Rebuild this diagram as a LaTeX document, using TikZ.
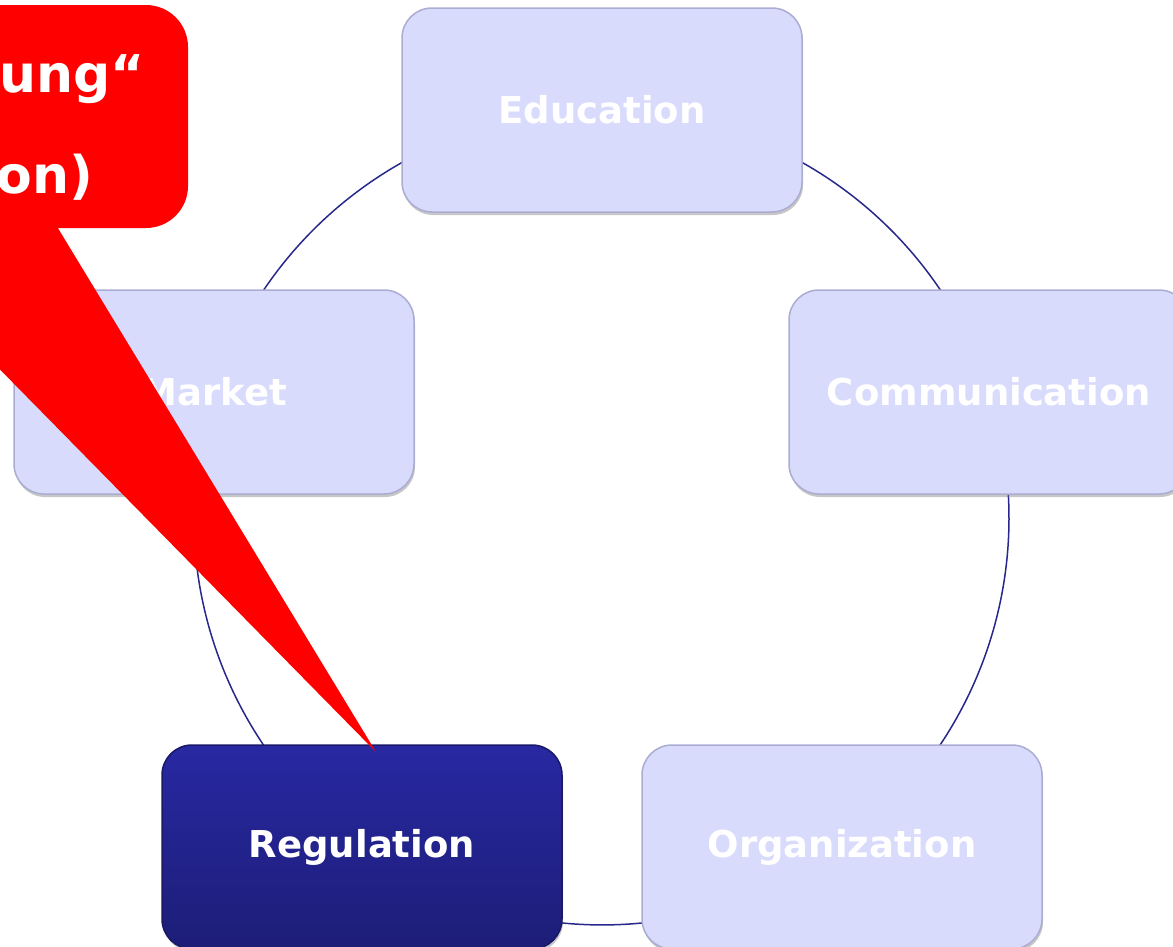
\documentclass[tikz,border=0pt]{standalone}
\usepackage{fontspec}
\setmainfont{DejaVu Sans}
\usetikzlibrary{backgrounds,shadows}
\definecolor{boxfill}{RGB}{217,219,252}
\definecolor{boxedge}{RGB}{170,172,210}
\definecolor{regtop}{RGB}{40,40,162}
\definecolor{regbot}{RGB}{29,29,120}
\definecolor{ringblue}{RGB}{40,40,140}
\definecolor{calloutred}{RGB}{255,0,0}
\begin{document}
\begin{tikzpicture}[x=1pt,y=1pt,
  cyclebox/.style={rounded corners=30pt, minimum width=400pt, minimum height=204pt,
    inner sep=0pt, font=\fontsize{37}{44}\selectfont\bfseries, text=white,
    drop shadow={shadow xshift=1pt,shadow yshift=-3pt,opacity=0.4,fill=black!55}},
  lightbox/.style={cyclebox, fill=boxfill, draw=boxedge, line width=1.5pt},
  darkbox/.style={cyclebox, top color=regtop, bottom color=regbot, draw=regbot!85!black, line width=1.5pt},
  ring/.style={draw=ringblue, line width=1.5pt},
  callout/.style={fill=calloutred},
  callouttext/.style={font=\fontsize{52}{60}\selectfont\bfseries, text=white, anchor=base east, inner sep=0pt}
]
\useasboundingbox (0,0) rectangle (1173,-946);
\clip (0,0) rectangle (1173,-946);

\node[lightbox] (edu)  at (602,-110) {Education};
\node[lightbox] (comm) at (989,-392) {Communication};
\node[lightbox] (org)  at (842,-847) {Organization};
\node[darkbox]  (reg)  at (362,-847) {Regulation};
\node[lightbox] (mkt)  at (214,-392) {Market};

\begin{pgfonlayer}{background}
  \draw[ring] (edu.center)  arc[start angle=90,  end angle=18,   radius=408pt];
  \draw[ring] (comm.center) arc[start angle=18,  end angle=-54,  radius=408pt];
  \draw[ring] (org.center)  arc[start angle=-54, end angle=-126, radius=408pt];
  \draw[ring] (reg.center)  arc[start angle=-126,end angle=-198, radius=408pt];
  \draw[ring] (mkt.center)  arc[start angle=162, end angle=90,   radius=408pt];
\end{pgfonlayer}

% red callout
\coordinate (tip) at (376,-752);
\fill[callout, rounded corners=42pt] (-300,-5) rectangle (188,-228);
\fill[callout] (-147,-220) -- (53,-220) -- (tip) -- cycle;
\node[callouttext] (c1) at (145,-92) {ung“};
\node[callouttext] (c2) at (93,-193) {on)};
\end{tikzpicture}
\end{document}
